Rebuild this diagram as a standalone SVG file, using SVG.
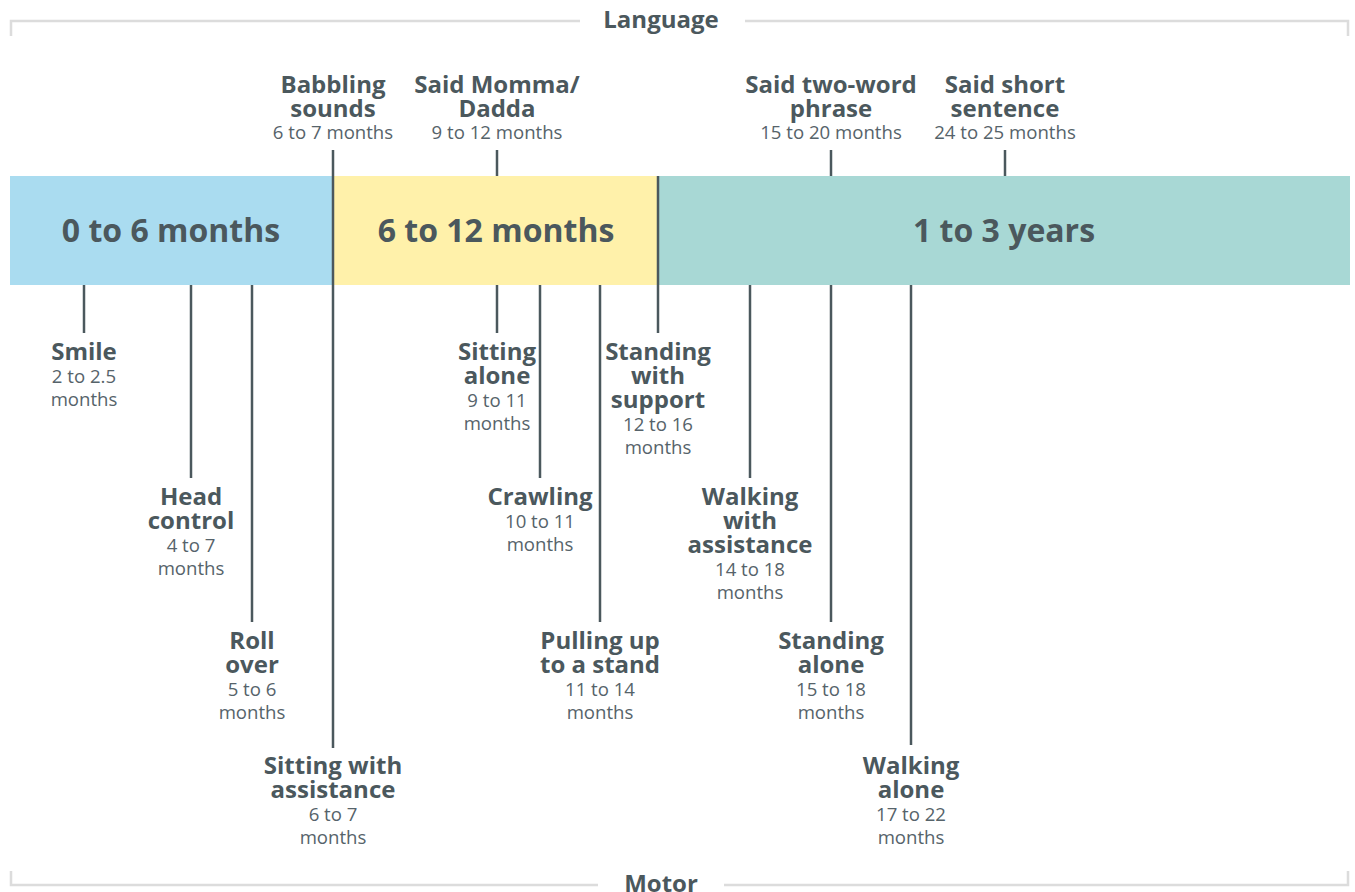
<svg xmlns="http://www.w3.org/2000/svg" width="1355" height="892" viewBox="0 0 1355 892">
<style>
.b{font-family:"Open Sans","Liberation Sans",sans-serif;font-weight:700;font-size:24px;fill:#4b585d;text-anchor:middle}
.r{font-family:"Open Sans","Liberation Sans",sans-serif;font-weight:400;font-size:18.6px;fill:#56636a;text-anchor:middle}
.band{font-family:"Open Sans","Liberation Sans",sans-serif;font-weight:700;font-size:32px;fill:#4b585d;text-anchor:middle}
.brk{fill:none;stroke:#dcdcdc;stroke-width:2.5}
.c{stroke:#4b585d;stroke-width:2.5;fill:none}
</style>
<rect width="1355" height="892" fill="#ffffff"/>
<g id="brackets">
<path class="brk" d="M11,36 V21 H580 M745,21 H1348 V36"/>
<path class="brk" d="M11,871 V885 H598 M724,885 H1348 V871"/>
<text class="b" x="661" y="28">Language</text>
<text class="b" x="661" y="892">Motor</text>
</g>
<g id="bands">
<rect x="10" y="176" width="323" height="109" fill="#aadcf0"/>
<rect x="333" y="176" width="325" height="109" fill="#fff1aa"/>
<rect x="658" y="176" width="692" height="109" fill="#a8d8d5"/>
<text class="band" x="171" y="242">0 to 6 months</text>
<text class="band" x="496" y="242">6 to 12 months</text>
<text class="band" x="1004" y="242">1 to 3 years</text>
</g>
<g id="connectors">
<line class="c" x1="333" y1="150" x2="333" y2="748"/>
<line class="c" x1="497" y1="150" x2="497" y2="176"/>
<line class="c" x1="831" y1="150" x2="831" y2="176"/>
<line class="c" x1="1005" y1="150" x2="1005" y2="176"/>
<line class="c" x1="84" y1="285" x2="84" y2="333"/>
<line class="c" x1="191" y1="285" x2="191" y2="478"/>
<line class="c" x1="252" y1="285" x2="252" y2="622"/>
<line class="c" x1="497" y1="285" x2="497" y2="333"/>
<line class="c" x1="540" y1="285" x2="540" y2="478"/>
<line class="c" x1="600" y1="285" x2="600" y2="622"/>
<line class="c" x1="658" y1="176" x2="658" y2="333"/>
<line class="c" x1="750" y1="285" x2="750" y2="478"/>
<line class="c" x1="831" y1="285" x2="831" y2="622"/>
<line class="c" x1="911" y1="285" x2="911" y2="745"/>
</g>
<g id="babbling"><text class="b" x="333" y="93">Babbling</text><text class="b" x="333" y="117">sounds</text><text class="r" x="333" y="139">6 to 7 months</text></g>
<g id="momma"><text class="b" x="497" y="93">Said Momma/</text><text class="b" x="497" y="117">Dadda</text><text class="r" x="497" y="139">9 to 12 months</text></g>
<g id="twoword"><text class="b" x="831" y="93">Said two-word</text><text class="b" x="831" y="117">phrase</text><text class="r" x="831" y="139">15 to 20 months</text></g>
<g id="sentence"><text class="b" x="1005" y="93">Said short</text><text class="b" x="1005" y="117">sentence</text><text class="r" x="1005" y="139">24 to 25 months</text></g>
<g id="smile"><text class="b" x="84" y="360">Smile</text><text class="r" x="84" y="383">2 to 2.5</text><text class="r" x="84" y="406">months</text></g>
<g id="sittingalone"><text class="b" x="497" y="360">Sitting</text><text class="b" x="497" y="384">alone</text><text class="r" x="497" y="407">9 to 11</text><text class="r" x="497" y="430">months</text></g>
<g id="standingsupport"><text class="b" x="658" y="360">Standing</text><text class="b" x="658" y="384">with</text><text class="b" x="658" y="408">support</text><text class="r" x="658" y="431">12 to 16</text><text class="r" x="658" y="454">months</text></g>
<g id="headcontrol"><text class="b" x="191" y="505">Head</text><text class="b" x="191" y="529">control</text><text class="r" x="191" y="552">4 to 7</text><text class="r" x="191" y="575">months</text></g>
<g id="crawling"><text class="b" x="540" y="505">Crawling</text><text class="r" x="540" y="528">10 to 11</text><text class="r" x="540" y="551">months</text></g>
<g id="walkingassist"><text class="b" x="750" y="505">Walking</text><text class="b" x="750" y="529">with</text><text class="b" x="750" y="553">assistance</text><text class="r" x="750" y="576">14 to 18</text><text class="r" x="750" y="599">months</text></g>
<g id="rollover"><text class="b" x="252" y="649">Roll</text><text class="b" x="252" y="673">over</text><text class="r" x="252" y="696">5 to 6</text><text class="r" x="252" y="719">months</text></g>
<g id="pullingup"><text class="b" x="600" y="649">Pulling up</text><text class="b" x="600" y="673">to a stand</text><text class="r" x="600" y="696">11 to 14</text><text class="r" x="600" y="719">months</text></g>
<g id="standingalone"><text class="b" x="831" y="649">Standing</text><text class="b" x="831" y="673">alone</text><text class="r" x="831" y="696">15 to 18</text><text class="r" x="831" y="719">months</text></g>
<g id="sittingassist"><text class="b" x="333" y="774">Sitting with</text><text class="b" x="333" y="798">assistance</text><text class="r" x="333" y="821">6 to 7</text><text class="r" x="333" y="844">months</text></g>
<g id="walkingalone"><text class="b" x="911" y="774">Walking</text><text class="b" x="911" y="798">alone</text><text class="r" x="911" y="821">17 to 22</text><text class="r" x="911" y="844">months</text></g>
</svg>
